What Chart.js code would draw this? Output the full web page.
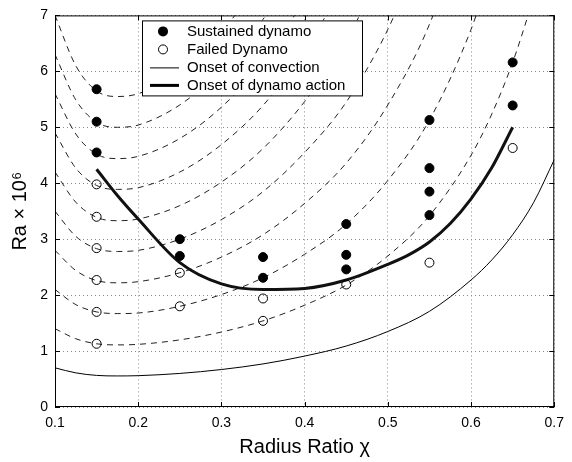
<!DOCTYPE html>
<html lang="en">
<head>
<meta charset="UTF-8">
<title>Onset of dynamo action</title>
<script src="https://cdn.jsdelivr.net/npm/chart.js"></script>
<style>
  body { margin: 0; background: #fff; }
</style>
</head>
<body>
<canvas id="chart" width="572" height="462"></canvas>
<script>
// radius ratio samples for the curves
const chi = [0.1, 0.125, 0.15, 0.175, 0.2, 0.25, 0.3, 0.35, 0.4, 0.45, 0.5, 0.55, 0.6, 0.625, 0.65, 0.675, 0.7];

// onset of convection (thin line)
const convection = [0.70, 0.61, 0.565, 0.555, 0.56, 0.60, 0.67, 0.77, 0.91, 1.09, 1.35, 1.71, 2.27, 2.63, 3.08, 3.65, 4.42];

// dashed curves (cut once they leave the top)
const dashed2  = [1.40, 1.22, 1.13, 1.11, 1.12, 1.20, 1.34, 1.54, 1.82, 2.18, 2.70, 3.42, 4.50, 5.24, 6.16, 7.30];
const dashed3  = [2.10, 1.83, 1.70, 1.67, 1.68, 1.80, 2.01, 2.31, 2.73, 3.27, 4.05, 5.13, 6.75, 7.86];
const dashed4  = [2.80, 2.44, 2.26, 2.22, 2.24, 2.40, 2.68, 3.08, 3.64, 4.36, 5.40, 6.84, 9.00];
const dashed5  = [3.50, 3.05, 2.83, 2.78, 2.80, 3.00, 3.35, 3.85, 4.55, 5.45, 6.75, 8.55];
const dashed6  = [4.20, 3.66, 3.39, 3.33, 3.36, 3.60, 4.02, 4.62, 5.46, 6.54, 8.10];
const dashed7  = [4.90, 4.27, 3.96, 3.89, 3.92, 4.20, 4.69, 5.39, 6.37, 7.63];
const dashed8  = [5.60, 4.88, 4.52, 4.44, 4.48, 4.80, 5.36, 6.16, 7.28];
const dashed9  = [6.30, 5.49, 5.09, 5.00, 5.04, 5.40, 6.03, 6.93, 8.19];
const dashed10 = [7.00, 6.10, 5.65, 5.55, 5.60, 6.00, 6.70, 7.70];
const dashedCurves = [dashed2, dashed3, dashed4, dashed5, dashed6, dashed7, dashed8, dashed9, dashed10];

// onset of dynamo action (thick line)
const onsetX = [0.15, 0.175, 0.2, 0.25, 0.3, 0.35, 0.4, 0.45, 0.5, 0.525, 0.55, 0.575, 0.6, 0.625, 0.65];
const onsetY = [4.25, 3.78, 3.36, 2.58, 2.20, 2.10, 2.12, 2.27, 2.55, 2.72, 2.95, 3.28, 3.72, 4.28, 5.00];

// runs
const sustainedX = [0.15, 0.15, 0.15, 0.25, 0.25, 0.35, 0.35, 0.45, 0.45, 0.45, 0.55, 0.55, 0.55, 0.55, 0.65, 0.65];
const sustainedY = [5.68, 5.10, 4.55, 3.00, 2.70, 2.68, 2.31, 3.27, 2.72, 2.46, 5.13, 4.27, 3.85, 3.43, 6.16, 5.39];
const failedX = [0.15, 0.15, 0.15, 0.15, 0.15, 0.15, 0.25, 0.25, 0.35, 0.35, 0.45, 0.55, 0.65];
const failedY = [3.98, 3.40, 2.84, 2.27, 1.70, 1.13, 2.40, 1.80, 1.94, 1.54, 2.19, 2.58, 4.63];

const xTicks = [0.1, 0.2, 0.3, 0.4, 0.5, 0.6, 0.7];
const yTicks = [0, 1, 2, 3, 4, 5, 6, 7];

const pts = (xs, ys) => ys.map((y, i) => ({ x: xs[i], y }));

Chart.defaults.font.family = "'Liberation Sans', Arial, sans-serif";
Chart.defaults.color = '#000';

const datasets = [
  { label: 'Sustained dynamo', type: 'scatter', data: pts(sustainedX, sustainedY), order: 0,
    pointRadius: 4.5, pointBorderWidth: 1, backgroundColor: '#000', borderColor: '#000' },
  { label: 'Failed Dynamo', type: 'scatter', data: pts(failedX, failedY), order: 0,
    pointRadius: 4.5, pointBorderWidth: 1, backgroundColor: 'rgba(0,0,0,0)', borderColor: '#000' },
  { label: 'Onset of convection', type: 'line', data: pts(chi, convection), order: 2,
    borderColor: '#000', borderWidth: 1, pointRadius: 0, cubicInterpolationMode: 'monotone' },
  { label: 'Onset of dynamo action', type: 'line', data: pts(onsetX, onsetY), order: 1,
    borderColor: '#111', borderWidth: 3, pointRadius: 0, cubicInterpolationMode: 'monotone' }
];
dashedCurves.forEach(c => datasets.push({
  label: '', type: 'line', data: pts(chi, c), order: 3,
  borderColor: '#222', borderWidth: 1, borderDash: [6, 5], pointRadius: 0, cubicInterpolationMode: 'monotone'
}));

// box frame with inward ticks, and the legend inside the plot
const frameAndLegend = {
  id: 'frameAndLegend',
  afterDraw(chart) {
    const { ctx, chartArea: a, scales } = chart;
    ctx.save();
    ctx.strokeStyle = '#000';
    ctx.lineWidth = 1;
    ctx.strokeRect(a.left + 0.5, a.top + 0.5, a.right - a.left - 1, a.bottom - a.top - 1);
    ctx.beginPath();
    xTicks.forEach(v => {
      const px = Math.round(scales.x.getPixelForValue(v)) + 0.5;
      ctx.moveTo(px, a.bottom); ctx.lineTo(px, a.bottom - 5);
      ctx.moveTo(px, a.top); ctx.lineTo(px, a.top + 5);
    });
    yTicks.forEach(v => {
      const py = Math.round(scales.y.getPixelForValue(v)) + 0.5;
      ctx.moveTo(a.left, py); ctx.lineTo(a.left + 5, py);
      ctx.moveTo(a.right, py); ctx.lineTo(a.right - 5, py);
    });
    ctx.stroke();

    // legend
    const x0 = a.left + 87, y0 = a.top + 5, w = 220, h = 75;
    ctx.fillStyle = '#fff';
    ctx.fillRect(x0, y0, w, h);
    ctx.strokeRect(x0 + 0.5, y0 + 0.5, w, h);
    const mx = x0 + 21;
    const rows = [y0 + 11, y0 + 29, y0 + 47, y0 + 65];
    ctx.fillStyle = '#000';
    ctx.beginPath(); ctx.arc(mx, rows[0], 5, 0, Math.PI * 2); ctx.fill();
    ctx.beginPath(); ctx.arc(mx, rows[1], 4.5, 0, Math.PI * 2); ctx.stroke();
    ctx.beginPath(); ctx.moveTo(x0 + 8, rows[2] + 0.5); ctx.lineTo(x0 + 37, rows[2] + 0.5); ctx.stroke();
    ctx.lineWidth = 3;
    ctx.beginPath(); ctx.moveTo(x0 + 8, rows[3]); ctx.lineTo(x0 + 37, rows[3]); ctx.stroke();
    ctx.font = "15px 'Liberation Sans', Arial, sans-serif";
    ctx.textBaseline = 'middle';
    ctx.textAlign = 'left';
    for (let i = 0; i < 4; i++) ctx.fillText(chart.data.datasets[i].label, x0 + 45, rows[i]);
    ctx.restore();
  }
};

new Chart(document.getElementById('chart'), {
  type: 'scatter',
  data: { datasets },
  plugins: [frameAndLegend],
  options: {
    responsive: false,
    devicePixelRatio: 1,
    animation: false,
    layout: { padding: { left: 0, right: 13, top: 10, bottom: 0 } },
    plugins: { legend: { display: false }, tooltip: { enabled: false } },
    scales: {
      x: {
        type: 'linear', min: 0.1, max: 0.7,
        afterBuildTicks: s => { s.ticks = xTicks.map(v => ({ value: v })); },
        afterFit: s => { s.height = 55; },
        ticks: { font: { size: 14 }, padding: 8, callback: v => v.toFixed(1) },
        grid: { color: '#8a8a8a', lineWidth: 1, drawTicks: false },
        border: { display: false, dash: [1, 3] },
        title: { display: true, text: 'Radius Ratio χ', font: { size: 20 }, padding: { top: 0, bottom: 3 } }
      },
      y: {
        type: 'linear', min: 0, max: 7,
        afterBuildTicks: s => { s.ticks = yTicks.map(v => ({ value: v })); },
        afterFit: s => { s.width = 55; },
        ticks: { font: { size: 14 }, padding: 7 },
        grid: { color: '#8a8a8a', lineWidth: 1, drawTicks: false },
        border: { display: false, dash: [1, 3] },
        title: { display: true, text: 'Ra × 10⁶', font: { size: 20 }, padding: { top: 8, bottom: 0 } }
      }
    }
  }
});
</script>
</body>
</html>
